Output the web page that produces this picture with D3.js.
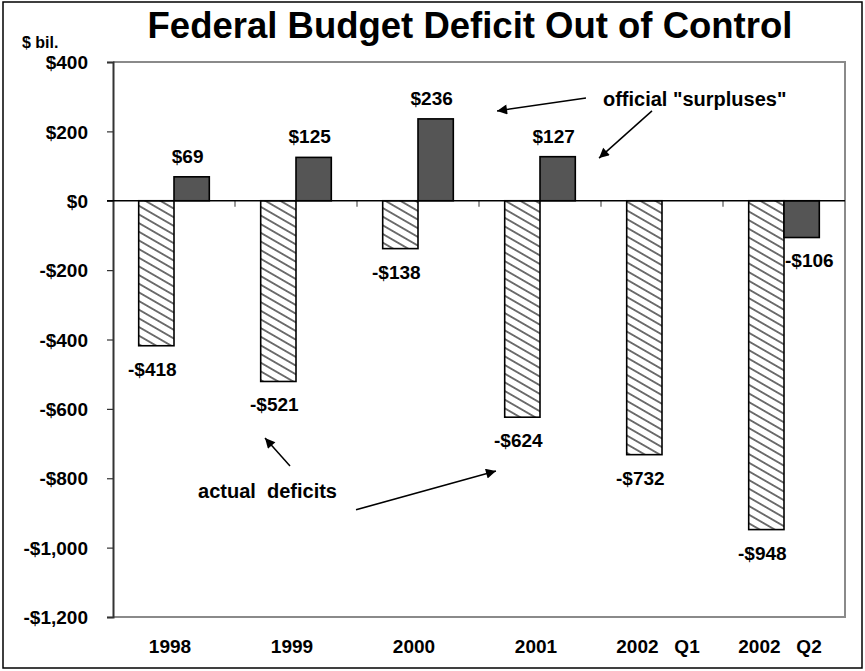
<!DOCTYPE html>
<html>
<head>
<meta charset="utf-8">
<script src="https://cdn.jsdelivr.net/npm/d3@7/dist/d3.min.js"></script>
<style>
  html, body { margin: 0; padding: 0; background: #fff; }
  svg text { font-family: "Liberation Sans", Arial, sans-serif; font-weight: bold; fill: #000; white-space: pre; }
</style>
</head>
<body>
<svg id="chart" width="865" height="671"></svg>
<script>
// ---- data ----
const categories = ["1998", "1999", "2000", "2001", "2002   Q1", "2002   Q2"];
const actualDeficits = [-418, -521, -138, -624, -732, -948];
const officialSurpluses = [69, 125, 236, 127, null, -106];
const yTicks = [400, 200, 0, -200, -400, -600, -800, -1000, -1200];
const yTickLabels = ["$400", "$200", "$0", "-$200", "-$400", "-$600", "-$800", "-$1,000", "-$1,200"];
const title = "Federal Budget Deficit Out of Control";
const unitLabel = "$ bil.";
// annotations in data space: [category index position, value]
const annotationTexts = [
  { text: "official \"surpluses\"", at: [4.016, 273] },
  { text: "actual  deficits", at: [0.697, -857] }
];
const annotationArrows = [
  { from: [3.877, 296], to: [3.148, 259] },
  { from: [4.418, 259], to: [3.984, 123] },
  { from: [1.451, -765], to: [1.246, -684] },
  { from: [1.992, -891], to: [3.139, -779] }
];

// ---- layout ----
const W = 865, H = 671;
const plot = { left: 113, right: 845, top: 62, bottom: 617 };
const svg = d3.select("#chart");

const y = d3.scaleLinear().domain([-1200, 400]).range([plot.bottom, plot.top]);
const x = d3.scaleBand().domain(categories).range([plot.left, plot.right]);
const xs = d3.scaleBand().domain(["actual", "official"]).range([0, x.bandwidth()]).paddingOuter(0.728);
const xi = d3.scaleLinear().domain([0, categories.length]).range([plot.left, plot.right]);

// defs: hatch + arrowhead
const defs = svg.append("defs");
const pat = defs.append("pattern")
  .attr("id", "hatch").attr("patternUnits", "userSpaceOnUse")
  .attr("width", 10).attr("height", 7.5)
  .attr("patternTransform", "rotate(30)");
pat.append("rect").attr("width", 10).attr("height", 7.5).attr("fill", "#fff");
pat.append("line").attr("x1", -1).attr("x2", 11).attr("y1", 3.75).attr("y2", 3.75)
  .attr("stroke", "#000").attr("stroke-width", 1.1);
defs.append("marker").attr("id", "arrow").attr("viewBox", "0 0 10 10")
  .attr("refX", 10).attr("refY", 5).attr("markerWidth", 13).attr("markerHeight", 10)
  .attr("markerUnits", "userSpaceOnUse").attr("orient", "auto")
  .append("path").attr("d", "M0,0 L10,5 L0,10 z").attr("fill", "#000");

// outer frame
svg.append("rect").attr("x", 3).attr("y", 2).attr("width", W - 6).attr("height", H - 5)
  .attr("fill", "none").attr("stroke", "#000").attr("stroke-width", 1.5);

// plot border (gray top/right/bottom)
svg.append("path")
  .attr("d", `M${plot.left},${plot.top}H${plot.right}V${plot.bottom}H${plot.left}`)
  .attr("fill", "none").attr("stroke", "#8a8a8a").attr("stroke-width", 2);

// y axis
const yAxis = d3.axisLeft(y).tickValues(yTicks).tickSize(6)
  .tickFormat((d, i) => yTickLabels[i]);
const gy = svg.append("g").attr("transform", `translate(${plot.left},0)`).call(yAxis);
gy.select(".domain").attr("stroke", "#333").attr("stroke-width", 2);
gy.selectAll(".tick line").attr("stroke", "#333").attr("stroke-width", 1.2);
gy.selectAll(".tick text").attr("x", -25).attr("dy", "0.35em")
  .style("font-size", "19px").style("font-family", "'Liberation Sans', Arial, sans-serif").style("font-weight", "bold");

// x tick marks at band boundaries on zero line
const bounds = categories.slice(1).map(c => x(c));
svg.append("g").selectAll("line").data(bounds).join("line")
  .attr("x1", d => d).attr("x2", d => d)
  .attr("y1", y(0)).attr("y2", y(0) + 6)
  .attr("stroke", "#777").attr("stroke-width", 1.5);

// bars: actual (hatched)
svg.append("g").selectAll("rect").data(actualDeficits).join("rect")
  .attr("x", (d, i) => x(categories[i]) + xs("actual"))
  .attr("width", xs.bandwidth())
  .attr("y", d => y(Math.max(0, d)))
  .attr("height", d => Math.abs(y(d) - y(0)))
  .attr("fill", "url(#hatch)").attr("stroke", "#000").attr("stroke-width", 1.6);

// bars: official (solid)
const offData = officialSurpluses.map((v, i) => ({ v, i })).filter(d => d.v !== null);
svg.append("g").selectAll("rect").data(offData).join("rect")
  .attr("x", d => x(categories[d.i]) + xs("official"))
  .attr("width", xs.bandwidth())
  .attr("y", d => y(Math.max(0, d.v)))
  .attr("height", d => Math.abs(y(d.v) - y(0)))
  .attr("fill", "#555").attr("stroke", "#000").attr("stroke-width", 1.6);

// zero line
svg.append("line").attr("x1", plot.left - 6).attr("x2", plot.right)
  .attr("y1", y(0)).attr("y2", y(0)).attr("stroke", "#000").attr("stroke-width", 1.5);

// labels
const fmt = v => (v < 0 ? "-$" : "$") + Math.abs(v);
svg.append("g").selectAll("text").data(actualDeficits).join("text")
  .attr("x", (d, i) => x(categories[i]) + xs("actual") + xs.bandwidth() / 2 - 4)
  .attr("y", d => y(d) + 30)
  .attr("text-anchor", "middle").style("font-size", "19px")
  .text(fmt);
svg.append("g").selectAll("text").data(offData).join("text")
  .attr("x", d => d.v >= 0
    ? x(categories[d.i]) + xs("official") + xs.bandwidth() / 2 - 4
    : x(categories[d.i]) + xs("official") + 1)
  .attr("y", d => d.v >= 0 ? y(d.v) - 14 : y(d.v) + 29)
  .attr("text-anchor", d => d.v >= 0 ? "middle" : "start")
  .style("font-size", "19px")
  .text(d => fmt(d.v));

// category labels
svg.append("g").selectAll("text").data(categories).join("text")
  .attr("x", d => x(d) + x.bandwidth() / 2 - 4)
  .attr("y", 653)
  .attr("text-anchor", "middle").style("font-size", "19px")
  .text(d => d);

// title + unit
svg.append("text").attr("x", 470).attr("y", 38).attr("text-anchor", "middle")
  .style("font-size", "36.5px").text(title);
svg.append("text").attr("x", 22).attr("y", 48).style("font-size", "16px").text(unitLabel);

// annotations
svg.append("g").selectAll("text").data(annotationTexts).join("text")
  .attr("x", d => xi(d.at[0])).attr("y", d => y(d.at[1]))
  .style("font-size", "20px").text(d => d.text);
svg.append("g").selectAll("line").data(annotationArrows).join("line")
  .attr("x1", d => xi(d.from[0])).attr("y1", d => y(d.from[1]))
  .attr("x2", d => xi(d.to[0])).attr("y2", d => y(d.to[1]))
  .attr("stroke", "#000").attr("stroke-width", 1.5)
  .attr("marker-end", "url(#arrow)");
</script>
</body>
</html>
